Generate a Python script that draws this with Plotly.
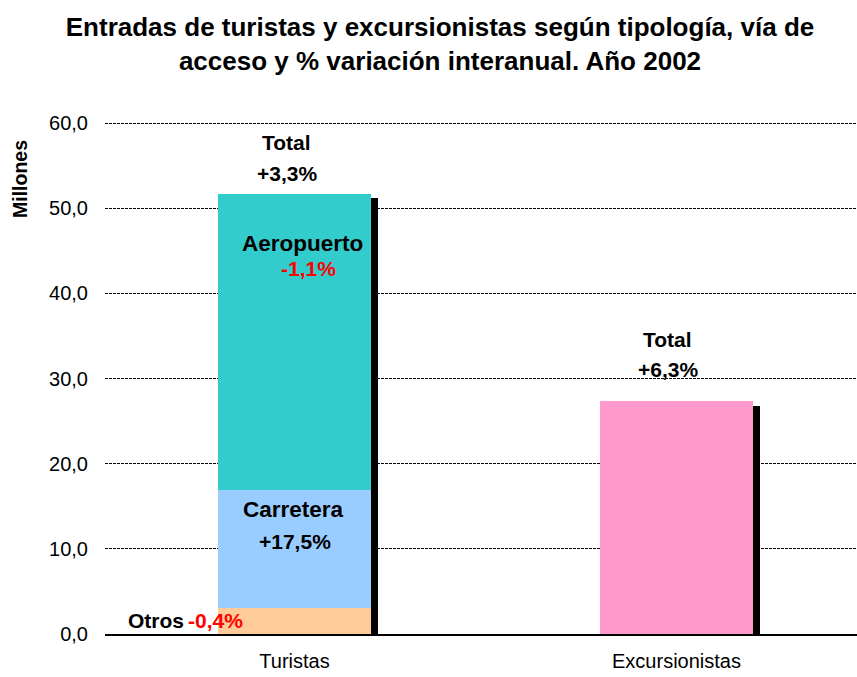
import plotly.graph_objects as go

categories = ["Turistas", "Excursionistas"]
otros = [3.0, 0]
carretera = [13.9, 0]
aeropuerto = [34.8, 0]
excursionistas = [0, 27.35]
totales = [51.7, 27.35]
tick_vals = [0, 10, 20, 30, 40, 50, 60]

FONT = "Liberation Sans, Arial, sans-serif"

fig = go.Figure()
colors = {"Otros": "#FFCC99", "Carretera": "#99CCFF", "Aeropuerto": "#33CCCC", "Excursionistas": "#FF99CC"}
for name, vals in [("Otros", otros), ("Carretera", carretera), ("Aeropuerto", aeropuerto), ("Excursionistas", excursionistas)]:
    fig.add_trace(go.Bar(x=[0, 1], y=vals, name=name, marker=dict(color=colors[name], line=dict(width=0)),
                         width=0.40, offset=-0.20, showlegend=False, hoverinfo="skip"))

# shadow bars (slightly lower, to the right)
fig.add_trace(go.Bar(x=[0, 1], y=totales, marker=dict(color="black", line=dict(width=0)),
                     width=0.019, offset=0.20, yaxis="y2", showlegend=False, hoverinfo="skip"))

fig.update_layout(
    barmode="stack",
    width=857, height=677,
    margin=dict(l=105, r=0, t=122, b=43),
    paper_bgcolor="white", plot_bgcolor="white",
    separators=", ",
    font=dict(family=FONT, color="black"),
    title=dict(text="<b>Entradas de turistas y excursionistas según tipología, vía de<br>acceso y % variación interanual. Año 2002</b>",
               x=440/857, xanchor="center", xref="container", y=1-36/677, yanchor="top", yref="container",
               font=dict(size=26, family=FONT, color="black")),
    xaxis=dict(range=[-0.496, 1.4725], tickvals=[0, 1], ticktext=categories, showgrid=False, zeroline=False,
               showline=True, linecolor="black", linewidth=1.5, ticks="", tickfont=dict(size=20, family=FONT),
               ticklabelstandoff=8),
    yaxis=dict(range=[0, 60.12], tickvals=tick_vals, tickformat=".1f", showgrid=True, gridcolor="black",
               gridwidth=1, griddash="3px,1px", zeroline=False, showline=False, ticks="",
               tickfont=dict(size=20, family=FONT), ticklabelstandoff=16),
    yaxis2=dict(range=[0.55, 60.67], overlaying="y", visible=False),
    bargap=0,
)

def px2x(p):
    return (p - 294.5) / 382.0

def px2y(p):
    return (634 - p) / 8.517

labels = [
    ("<b>Total</b>", 287, 142, "black"),
    ("<b>+3,3%</b>", 287, 173, "black"),
    ("<b>Aeropuerto</b>", 303, 243, "black"),
    ("<b>-1,1%</b>", 309, 268, "#FF0000"),
    ("<b>Carretera</b>", 294, 509, "black"),
    ("<b>+17,5%</b>", 295, 541, "black"),
    ("<b>Otros</b>", 156, 620, "black"),
    ("<b>-0,4%</b>", 216, 620, "#FF0000"),
    ("<b>Total</b>", 667, 339, "black"),
    ("<b>+6,3%</b>", 668, 369, "black"),
]
for txt, xp, yp, col in labels:
    size = 22.5 if txt in ("<b>Aeropuerto</b>", "<b>Carretera</b>") else 21
    fig.add_annotation(x=px2x(xp), y=px2y(yp), xref="x", yref="y", text=txt, showarrow=False,
                       xanchor="center", yanchor="middle", font=dict(size=size, family=FONT, color=col))

fig.add_annotation(x=(20 - 105) / 752, y=(634 - 179) / 512, xref="paper", yref="paper", text="<b>Millones</b>",
                   textangle=-90, showarrow=False, xanchor="center", yanchor="middle",
                   font=dict(size=19.5, family=FONT, color="black"))

fig.write_html("out.html", config={"displayModeBar": False},
               post_script="document.body.style.margin='0';document.body.style.overflow='hidden';")
